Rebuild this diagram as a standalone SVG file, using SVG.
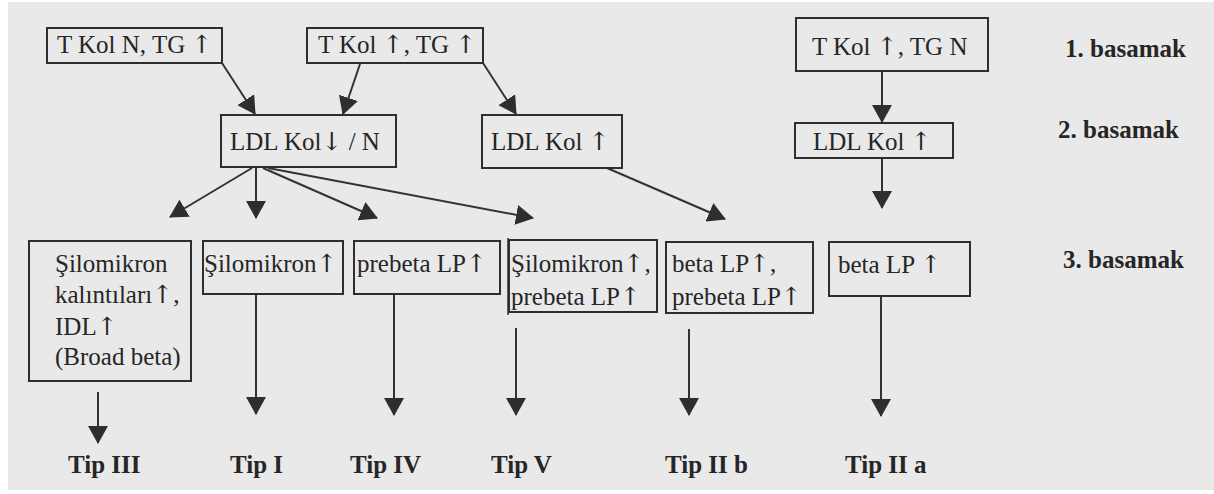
<svg xmlns="http://www.w3.org/2000/svg" width="1214" height="494" viewBox="0 0 1214 494">
<style>
.bg{fill:#e9e9e9}
.box{fill:none;stroke:#2e2e2e;stroke-width:2}
.t{font-family:"Liberation Serif","Times New Roman","DejaVu Serif",serif;font-size:25px;fill:#262626}
.ar{font-family:"DejaVu Serif","DejaVu Sans",serif;font-size:25px;fill:#262626}
.lbl{font-family:"Liberation Serif","Times New Roman","DejaVu Serif",serif;font-size:25px;font-weight:bold;fill:#262626}
.c{stroke:#333;stroke-width:2;fill:none;marker-end:url(#ah)}
</style>
<defs>
<marker id="ah" markerUnits="userSpaceOnUse" viewBox="0 0 18 20" markerWidth="18" markerHeight="20" refX="17" refY="10" orient="auto">
<path d="M0,0 L18,10 L0,20 z" fill="#2e2e2e"/>
</marker>
</defs>
<rect x="0" y="0" width="1214" height="494" fill="#ffffff"/>
<rect class="bg" x="8" y="2" width="1206" height="488"/>

<g id="connectors">
<line class="c" x1="222" y1="63" x2="255" y2="114"/>
<line class="c" x1="360" y1="64" x2="343" y2="114"/>
<line class="c" x1="483" y1="63" x2="516" y2="114"/>
<line class="c" x1="882" y1="71" x2="882" y2="122"/>
<line class="c" x1="882" y1="158" x2="882" y2="208"/>
<line class="c" x1="252" y1="168" x2="170" y2="217"/>
<line class="c" x1="256" y1="168" x2="256" y2="218"/>
<line class="c" x1="263" y1="168" x2="377" y2="218"/>
<line class="c" x1="268" y1="168" x2="533" y2="218"/>
<line class="c" x1="607" y1="168" x2="725" y2="219"/>
<line class="c" x1="98" y1="392" x2="98" y2="443"/>
<line class="c" x1="256" y1="294" x2="256" y2="414"/>
<line class="c" x1="394" y1="294" x2="394" y2="415"/>
<line class="c" x1="516" y1="328" x2="516" y2="415"/>
<line class="c" x1="689" y1="329" x2="689" y2="415"/>
<line class="c" x1="881" y1="296" x2="881" y2="416"/>
</g>

<g id="n1"><rect class="box" x="47" y="28" width="175" height="35"/><text class="t" x="57" y="53">T Kol N, TG <tspan class="ar">↑</tspan></text></g>
<g id="n2"><rect class="box" x="307" y="28" width="176" height="35"/><text class="t" x="318" y="53">T Kol <tspan class="ar">↑</tspan>, TG <tspan class="ar">↑</tspan></text></g>
<g id="n3"><rect class="box" x="796" y="18" width="192" height="53"/><text class="t" x="812" y="55">T Kol <tspan class="ar">↑</tspan>, TG N</text></g>

<g id="n4"><rect class="box" x="221" y="115" width="175" height="52"/><text class="t" x="230" y="150">LDL Kol<tspan class="ar">↓</tspan> / N</text></g>
<g id="n5"><rect class="box" x="482" y="115" width="140" height="53"/><text class="t" x="491" y="150">LDL Kol <tspan class="ar">↑</tspan></text></g>
<g id="n6"><rect class="box" x="795" y="123" width="158" height="35"/><text class="t" x="813" y="150">LDL Kol <tspan class="ar">↑</tspan></text></g>

<g id="n7"><rect class="box" x="29" y="241" width="162" height="140"/>
<text class="t" x="55" y="272">Şilomikron</text>
<text class="t" x="55" y="303">kalıntıları<tspan class="ar">↑</tspan>,</text>
<text class="t" x="55" y="335">IDL<tspan class="ar">↑</tspan></text>
<text class="t" x="55" y="365">(Broad beta)</text></g>
<g id="n8"><rect class="box" x="203" y="241" width="140" height="53"/><text class="t" x="204" y="272">Şilomikron<tspan class="ar">↑</tspan></text></g>
<g id="n9"><rect class="box" x="354" y="241" width="146" height="53"/><text class="t" x="357" y="272">prebeta LP<tspan class="ar">↑</tspan></text></g>
<g id="n10"><rect class="box" x="509" y="240" width="148" height="72"/><line x1="508" y1="238" x2="508" y2="315" stroke="#2e2e2e" stroke-width="1.5"/>
<text class="t" x="511" y="272">Şilomikron<tspan class="ar">↑</tspan>,</text>
<text class="t" x="511" y="305">prebeta LP<tspan class="ar">↑</tspan></text></g>
<g id="n11"><rect class="box" x="666" y="242" width="147" height="71"/>
<text class="t" x="672" y="272">beta LP<tspan class="ar">↑</tspan>,</text>
<text class="t" x="672" y="305">prebeta LP<tspan class="ar">↑</tspan></text></g>
<g id="n12"><rect class="box" x="829" y="242" width="141" height="54"/><text class="t" x="838" y="273">beta LP <tspan class="ar">↑</tspan></text></g>

<g id="labels">
<text class="lbl" x="1065" y="57">1. basamak</text>
<text class="lbl" x="1058" y="138">2. basamak</text>
<text class="lbl" x="1063" y="268">3. basamak</text>
<text class="lbl" x="68" y="473">Tip III</text>
<text class="lbl" x="230" y="473">Tip I</text>
<text class="lbl" x="350" y="473">Tip IV</text>
<text class="lbl" x="491" y="473">Tip V</text>
<text class="lbl" x="665" y="473">Tip II b</text>
<text class="lbl" x="845" y="473">Tip II a</text>
</g>
</svg>
